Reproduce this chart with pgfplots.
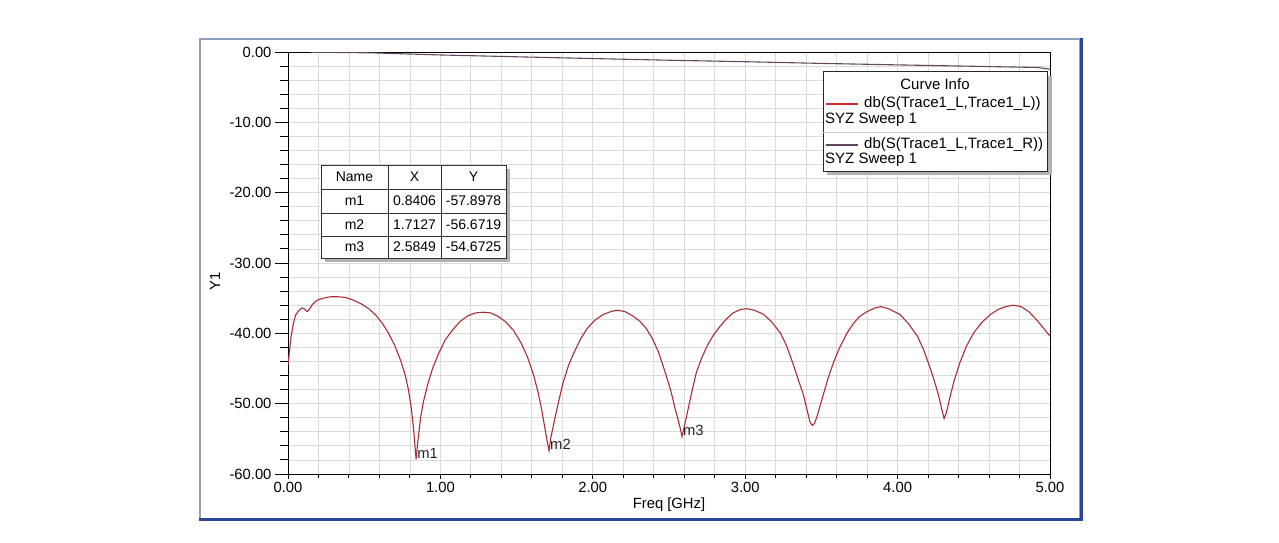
\documentclass[border=0pt]{standalone}
\usepackage{fontspec}
\setmainfont{Liberation Sans}
\usepackage{pgfplots}
\pgfplotsset{compat=1.18}
\definecolor{s11}{RGB}{170,45,50}
\definecolor{s21}{RGB}{100,70,100}
\definecolor{s11leg}{RGB}{215,40,40}
\definecolor{gridc}{RGB}{218,218,218}
\definecolor{frameA}{RGB}{140,160,190}
\definecolor{frameB}{RGB}{40,70,155}
\newcommand\fs{\fontsize{14.8}{17}\selectfont}
\newcommand\fl{\fontsize{15}{17}\selectfont}
\newcommand\ft{\fontsize{14}{16}\selectfont}
\begin{document}
\begin{tikzpicture}
\fill[white] (0,0) rectangle (1279pt,542pt);
\begin{scope}[x=1pt,y=-1pt,yshift=542pt]
\draw[frameA,line width=2pt] (200,39) rectangle (1080,519);
\draw[frameB,line width=3pt] (198.5,519.5) -- (1081.5,519.5) -- (1081.5,38);
\end{scope}
% main axis: grid, frame, data
\begin{axis}[
  at={(288pt,68pt)}, anchor=south west,
  scale only axis, width=762pt, height=422pt,
  xmin=0, xmax=5, ymin=-60, ymax=0,
  xtick={0,1,2,3,4,5},
  minor xtick={0.2,0.4,0.6,0.8,1.2,1.4,1.6,1.8,2.2,2.4,2.6,2.8,3.2,3.4,3.6,3.8,4.2,4.4,4.6,4.8},
  ytick={-60,-50,-40,-30,-20,-10,0},
  minor ytick={-58,-56,-54,-52,-48,-46,-44,-42,-38,-36,-34,-32,-28,-26,-24,-22,-18,-16,-14,-12,-8,-6,-4,-2},
  xticklabels={}, yticklabels={},
  tick style={draw=none},
  grid=both,
  major grid style={gridc, line width=0.8pt},
  minor grid style={gridc, line width=0.8pt},
  axis line style={black, line width=1pt},
]
\addplot[s21, line width=1.1pt] coordinates {
(0.15,-0.03) (0.55,-0.12) (1.0,-0.42) (1.5,-0.68) (2.0,-0.93) (2.5,-1.17)
(3.0,-1.38) (3.5,-1.62) (4.0,-1.83) (4.5,-2.03) (4.92,-2.2) (5.0,-2.45)
};
\addplot[s11, line width=1.1pt] table {
x y
0.000 -44.5
0.010 -42.5
0.020 -40.5
0.035 -38.6
0.050 -37.4
0.070 -36.8
0.090 -36.4
0.105 -36.5
0.125 -36.9
0.140 -36.6
0.160 -35.9
0.190 -35.3
0.230 -35.0
0.280 -34.8
0.330 -34.8
0.380 -34.9
0.430 -35.3
0.480 -35.8
0.530 -36.5
0.580 -37.5
0.620 -38.6
0.660 -40.0
0.700 -41.7
0.740 -43.9
0.770 -46.0
0.790 -48.0
0.810 -50.8
0.825 -53.8
0.835 -56.5
0.8406 -57.8978
0.850 -55.8
0.870 -52.0
0.890 -49.6
0.920 -47.0
0.950 -44.9
0.990 -42.8
1.030 -41.0
1.080 -39.5
1.130 -38.3
1.180 -37.5
1.230 -37.1
1.280 -37.0
1.330 -37.1
1.380 -37.6
1.430 -38.4
1.480 -39.6
1.530 -41.4
1.570 -43.3
1.610 -45.8
1.640 -48.3
1.665 -50.9
1.685 -53.4
1.700 -55.3
1.7127 -56.6719
1.725 -54.8
1.752 -52.0
1.780 -49.3
1.805 -47.0
1.840 -44.6
1.871 -43.0
1.920 -40.8
1.960 -39.4
2.010 -38.2
2.070 -37.3
2.120 -36.9
2.160 -36.7
2.210 -36.9
2.260 -37.5
2.310 -38.3
2.350 -39.3
2.390 -40.7
2.430 -42.6
2.470 -45.2
2.510 -48.0
2.540 -50.7
2.560 -52.3
2.575 -53.6
2.5849 -54.6725
2.600 -53.3
2.625 -50.8
2.650 -48.3
2.680 -45.5
2.715 -43.5
2.750 -41.8
2.790 -40.3
2.835 -39.0
2.880 -37.9
2.920 -37.1
2.970 -36.6
3.010 -36.5
3.060 -36.7
3.120 -37.3
3.170 -38.3
3.230 -39.9
3.270 -41.7
3.310 -44.1
3.350 -46.7
3.380 -48.6
3.405 -50.8
3.425 -52.6
3.440 -53.1
3.455 -52.8
3.470 -51.9
3.490 -50.4
3.510 -48.9
3.545 -46.3
3.580 -44.1
3.620 -42.0
3.670 -39.9
3.710 -38.6
3.750 -37.6
3.800 -36.9
3.850 -36.4
3.890 -36.2
3.940 -36.5
4.015 -37.3
4.070 -38.6
4.130 -40.4
4.170 -42.3
4.210 -44.7
4.240 -46.7
4.270 -48.9
4.290 -50.8
4.305 -52.1
4.320 -51.3
4.340 -49.4
4.370 -46.8
4.410 -44.1
4.450 -41.9
4.500 -39.9
4.550 -38.5
4.610 -37.3
4.660 -36.6
4.710 -36.2
4.760 -36.0
4.810 -36.2
4.860 -36.9
4.900 -37.8
4.940 -38.8
4.970 -39.6
5.000 -40.4
};
\node[anchor=west, font=\fs, text=black!85, inner sep=0pt, xshift=1pt, yshift=6pt] at (axis cs:0.8406,-57.8978) {m1};
\node[anchor=west, font=\fs, text=black!85, inner sep=0pt, xshift=1pt, yshift=6pt] at (axis cs:1.7127,-56.6719) {m2};
\node[anchor=west, font=\fs, text=black!85, inner sep=0pt, xshift=1pt, yshift=6pt] at (axis cs:2.5849,-54.6725) {m3};
\end{axis}
% x ticks and labels
\begin{axis}[
  at={(288pt,68pt)}, anchor=south west,
  scale only axis, width=762pt, height=422pt,
  xmin=0, xmax=5, ymin=-60, ymax=0,
  axis line style={draw=none},
  xtick={0,1,2,3,4,5},
  minor xtick={0.2,0.4,0.6,0.8,1.2,1.4,1.6,1.8,2.2,2.4,2.6,2.8,3.2,3.4,3.6,3.8,4.2,4.4,4.6,4.8},
  xtick pos=bottom, ytick=\empty,
  tick align=outside, major tick length=5pt, minor tick length=3.5pt,
  tick style={black, line width=1pt},
  /pgf/number format/assume math mode=true,
  xticklabel style={font=\fs, /pgf/number format/fixed, /pgf/number format/fixed zerofill, /pgf/number format/precision=2},
]
\end{axis}
% y ticks and labels
\begin{axis}[
  at={(288pt,68pt)}, anchor=south west,
  scale only axis, width=762pt, height=422pt,
  xmin=0, xmax=5, ymin=-60, ymax=0,
  axis line style={draw=none},
  xtick=\empty,
  ytick={-60,-50,-40,-30,-20,-10,0},
  minor ytick={-58,-56,-54,-52,-48,-46,-44,-42,-38,-36,-34,-32,-28,-26,-24,-22,-18,-16,-14,-12,-8,-6,-4,-2},
  ytick pos=left,
  tick align=outside, major tick length=13pt, minor tick length=8pt,
  tick style={black, line width=1pt},
  /pgf/number format/assume math mode=true,
  yticklabel style={font=\fs, /pgf/number format/fixed, /pgf/number format/fixed zerofill, /pgf/number format/precision=2},
]
\end{axis}
\begin{scope}[x=1pt,y=-1pt,yshift=542pt]
% axis labels
\node[font=\fs, rotate=90] at (215,281) {Y1};
\node[font=\fs] at (669,505) {Freq [GHz]};
% marker table
\fill[black!30] (325,169) rectangle (510,262);
\filldraw[fill=white, draw=black!80, line width=1pt] (321,165) rectangle (506,258);
\draw[black!80, line width=0.9pt] (388,165) -- (388,258) (441,165) -- (441,258)
  (321,189) -- (506,189) (321,213) -- (506,213) (321,236) -- (506,236);
\node[font=\ft] at (354.5,177) {Name};
\node[font=\ft] at (414.5,177) {X};
\node[font=\ft] at (473.5,177) {Y};
\node[font=\ft] at (354.5,201) {m1};
\node[font=\ft] at (414.5,201) {0.8406};
\node[font=\ft] at (473.5,201) {-57.8978};
\node[font=\ft] at (354.5,224.5) {m2};
\node[font=\ft] at (414.5,224.5) {1.7127};
\node[font=\ft] at (473.5,224.5) {-56.6719};
\node[font=\ft] at (354.5,247) {m3};
\node[font=\ft] at (414.5,247) {2.5849};
\node[font=\ft] at (473.5,247) {-54.6725};
% curve info box
\fill[black!30] (827,76) rectangle (1052,175);
\filldraw[fill=white, draw=black!85, line width=1pt] (823,72) rectangle (1047,171);
\draw[black!20, line width=0.8pt] (823,132.5) -- (1047,132.5);
\node[font=\fl] at (935,84) {Curve Info};
\draw[s11leg, line width=2.5pt] (826,104) -- (858,104);
\node[font=\fl, anchor=west, inner sep=0pt] at (864,104) {db(S(Trace1\_L,Trace1\_L))};
\node[font=\fl, anchor=west, inner sep=0pt] at (825,119.5) {SYZ Sweep 1};
\draw[s21, line width=2.5pt] (826,145) -- (858,145);
\node[font=\fl, anchor=west, inner sep=0pt] at (864,145) {db(S(Trace1\_L,Trace1\_R))};
\node[font=\fl, anchor=west, inner sep=0pt] at (825,160) {SYZ Sweep 1};
\end{scope}
\pgfresetboundingbox
\path[use as bounding box] (0,0) rectangle (1279pt,542pt);
\end{tikzpicture}
\end{document}
